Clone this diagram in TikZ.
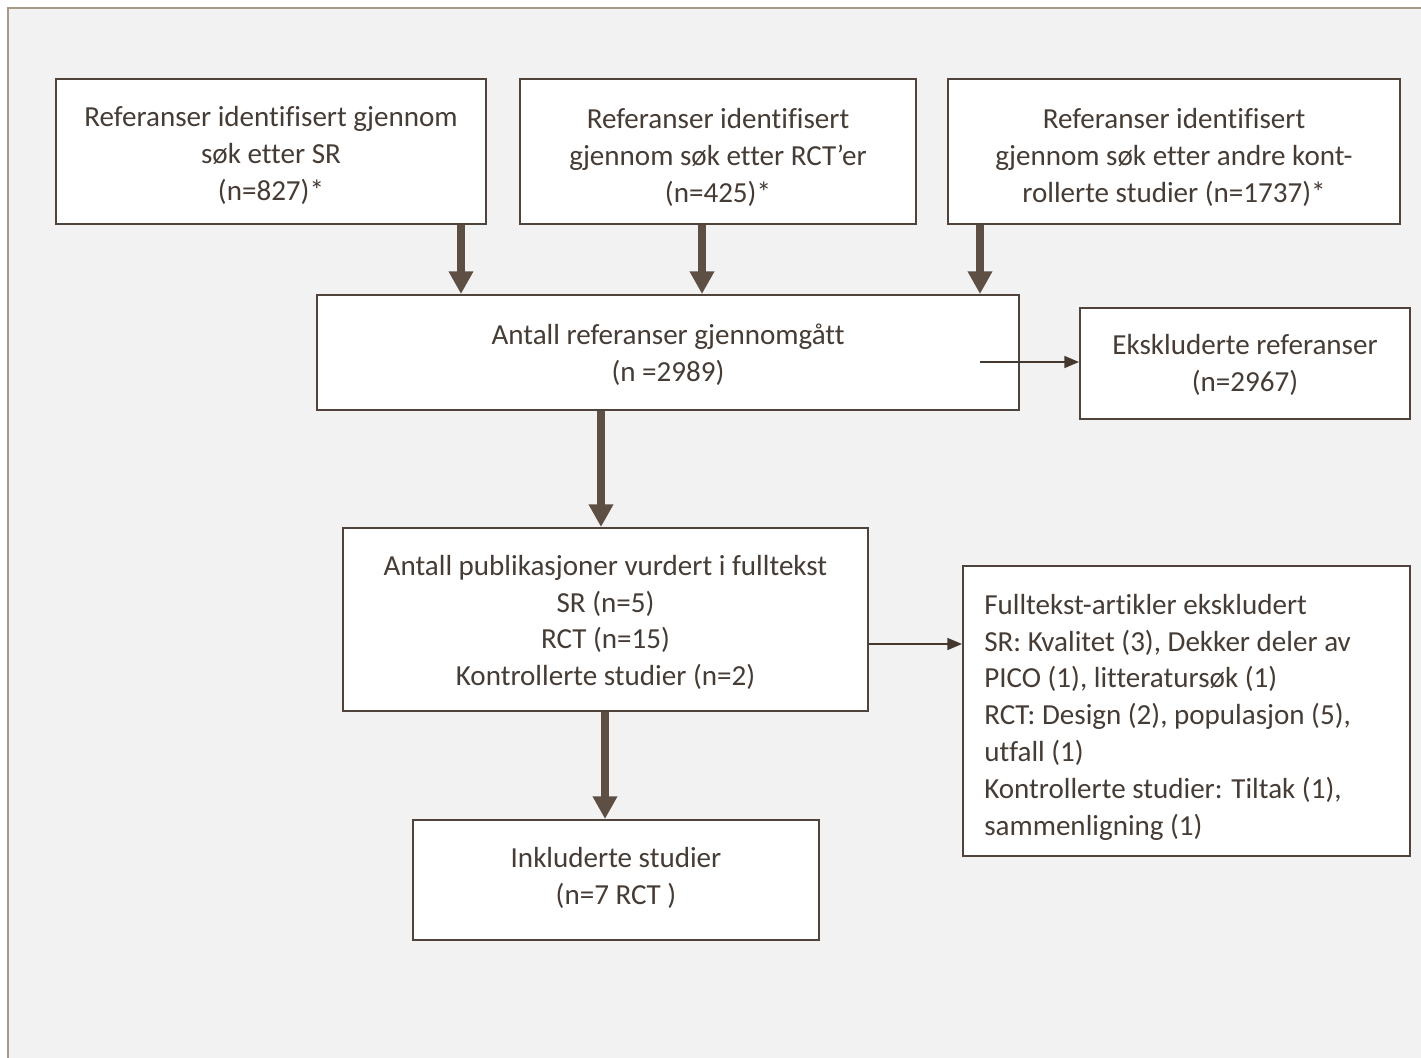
\documentclass[tikz,border=0pt]{standalone}
\usepackage{fontspec}
\setmainfont{Carlito}[Ligatures={NoCommon}]
\usetikzlibrary{arrows.meta}
\definecolor{framec}{HTML}{A89888}
\definecolor{bg}{HTML}{F2F2F2}
\definecolor{boxc}{HTML}{4F433C}
\definecolor{thickc}{HTML}{5E4F45}
\definecolor{thinc}{HTML}{45382F}
\definecolor{txt}{HTML}{463C36}
\begin{document}
\begin{tikzpicture}[x=0.75pt,y=-0.75pt,
  box/.style={draw=boxc,line width=1.5pt,fill=white,inner sep=0pt},
  label text/.style={align=center,inner sep=0pt,font=\fontsize{21.8}{27.6}\selectfont,text=txt},
  bigarrow/.style={draw=thickc,line width=5.5pt,-{Triangle[width=17.5pt,length=17pt]}},
  smallarrow/.style={draw=thinc,line width=1.1pt,-{Triangle[width=9pt,length=11pt]}}]
\useasboundingbox (0,0) rectangle (1421,1057);
\fill[white] (0,0) rectangle (1421,1057);
\draw[draw=framec,fill=bg,line width=1.5pt] (8,8) rectangle (1440,1080);

\node[box,minimum width=322.5pt,minimum height=108.75pt] (b1) at (271,151.5) {};
\node[box,minimum width=297pt,minimum height=108.75pt] (b2) at (718,151.5) {};
\node[box,minimum width=339pt,minimum height=108.75pt] (b3) at (1174,151.5) {};
\node[box,minimum width=526.5pt,minimum height=86.25pt] (b4) at (668,352.5) {};
\node[box,minimum width=247.5pt,minimum height=83.25pt] (b5) at (1245,363.5) {};
\node[box,minimum width=393.75pt,minimum height=137.25pt] (b6) at (605.5,619.5) {};
\node[box,minimum width=335.25pt,minimum height=217.5pt] (b7) at (1186.5,711) {};
\node[box,minimum width=304.5pt,minimum height=90pt] (b8) at (616,880) {};

\node[label text] (t1) at (271,155.5)
  {Referanser identifisert gjennom\\søk etter SR\\(n=827)*};
\node[label text] (t2) at (718,157.5)
  {Referanser identifisert\\gjennom søk etter RCT’er\\(n=425)*};
\node[label text] (t3) at (1174,157.5)
  {Referanser identifisert\\gjennom søk etter andre kont-\\rollerte studier (n=1737)*};
\node[label text] (t4) at (668,355)
  {Antall referanser gjennomgått\\(n =2989)};
\node[label text] (t5) at (1245,365)
  {Ekskluderte referanser\\(n=2967)};
\node[label text] (t6) at (605.5,622.5)
  {Antall publikasjoner vurdert i fulltekst\\SR (n=5)\\RCT (n=15)\\Kontrollerte studier (n=2)};
\node[label text,align=left,anchor=west] (t7) at (984,717)
  {Fulltekst-artikler ekskludert\\SR: Kvalitet (3), Dekker deler av\\PICO (1), litteratursøk (1)\\RCT: Design (2), populasjon (5),\\utfall (1)\\Kontrollerte studier: Tiltak (1),\\sammenligning (1)};
\node[label text] (t8) at (616,878)
  {Inkluderte studier\\(n=7 RCT )};

\coordinate (a1) at (461,0);
\coordinate (a2) at (702,0);
\coordinate (a3) at (980,0);
\coordinate (a4) at (601,0);
\coordinate (a5) at (605,0);
\coordinate (s1) at (980,362);
\coordinate (s2) at (0,644);

\draw[bigarrow] (b1.south -| a1) -- (b4.north -| a1);
\draw[bigarrow] (b2.south -| a2) -- (b4.north -| a2);
\draw[bigarrow] (b3.south -| a3) -- (b4.north -| a3);
\draw[bigarrow] (b4.south -| a4) -- (b6.north -| a4);
\draw[bigarrow] (b6.south -| a5) -- (b8.north -| a5);
\draw[smallarrow] (s1) -- (s1 -| b5.west);
\draw[smallarrow] (b6.east |- s2) -- (b7.west |- s2);
\end{tikzpicture}
\end{document}
